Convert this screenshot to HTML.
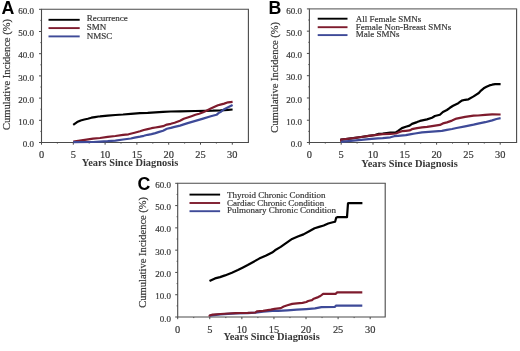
<!DOCTYPE html>
<html><head><meta charset="utf-8"><style>
html,body{margin:0;padding:0;background:#fff;}
body{width:520px;height:351px;overflow:hidden;}
svg{display:block;will-change:transform;}
.yl,.xl,.yt,.lg{font-family:"Liberation Serif",serif;fill:#383838;stroke:#383838;stroke-width:0.2px;}
.xt{font-family:"Liberation Serif",serif;font-weight:bold;fill:#363636;}
.let{font-family:"Liberation Sans",sans-serif;font-weight:bold;fill:#000;}
</style></head><body>
<svg width="520" height="351" viewBox="0 0 520 351">
<rect width="520" height="351" fill="#fff"/>
<path d="M41.5,9.3 L41.5,142.5 L248.4,142.5 L248.4,9.3" fill="none" stroke="#4a4a4a" stroke-width="1.1"/>
<line x1="40.95" y1="9.3" x2="248.95000000000002" y2="9.3" stroke="#4a4a4a" stroke-width="1.1"/>
<line x1="39.0" y1="142.50" x2="41.5" y2="142.50" stroke="#4a4a4a" stroke-width="1"/>
<text x="34.0" y="147.10" text-anchor="end" class="yl" font-size="9">0.0</text>
<line x1="39.0" y1="120.30" x2="41.5" y2="120.30" stroke="#4a4a4a" stroke-width="1"/>
<text x="34.0" y="124.90" text-anchor="end" class="yl" font-size="9">10.0</text>
<line x1="39.0" y1="98.10" x2="41.5" y2="98.10" stroke="#4a4a4a" stroke-width="1"/>
<text x="34.0" y="102.70" text-anchor="end" class="yl" font-size="9">20.0</text>
<line x1="39.0" y1="75.90" x2="41.5" y2="75.90" stroke="#4a4a4a" stroke-width="1"/>
<text x="34.0" y="80.50" text-anchor="end" class="yl" font-size="9">30.0</text>
<line x1="39.0" y1="53.70" x2="41.5" y2="53.70" stroke="#4a4a4a" stroke-width="1"/>
<text x="34.0" y="58.30" text-anchor="end" class="yl" font-size="9">40.0</text>
<line x1="39.0" y1="31.50" x2="41.5" y2="31.50" stroke="#4a4a4a" stroke-width="1"/>
<text x="34.0" y="36.10" text-anchor="end" class="yl" font-size="9">50.0</text>
<line x1="39.0" y1="9.30" x2="41.5" y2="9.30" stroke="#4a4a4a" stroke-width="1"/>
<text x="34.0" y="13.90" text-anchor="end" class="yl" font-size="9">60.0</text>
<line x1="40.4" y1="131.40" x2="41.5" y2="131.40" stroke="#4a4a4a" stroke-width="0.9"/>
<line x1="40.4" y1="109.20" x2="41.5" y2="109.20" stroke="#4a4a4a" stroke-width="0.9"/>
<line x1="40.4" y1="87.00" x2="41.5" y2="87.00" stroke="#4a4a4a" stroke-width="0.9"/>
<line x1="40.4" y1="64.80" x2="41.5" y2="64.80" stroke="#4a4a4a" stroke-width="0.9"/>
<line x1="40.4" y1="42.60" x2="41.5" y2="42.60" stroke="#4a4a4a" stroke-width="0.9"/>
<line x1="40.4" y1="20.40" x2="41.5" y2="20.40" stroke="#4a4a4a" stroke-width="0.9"/>
<line x1="57.40" y1="142.5" x2="57.40" y2="143.6" stroke="#4a4a4a" stroke-width="0.9"/>
<line x1="89.20" y1="142.5" x2="89.20" y2="143.6" stroke="#4a4a4a" stroke-width="0.9"/>
<line x1="121.00" y1="142.5" x2="121.00" y2="143.6" stroke="#4a4a4a" stroke-width="0.9"/>
<line x1="152.80" y1="142.5" x2="152.80" y2="143.6" stroke="#4a4a4a" stroke-width="0.9"/>
<line x1="184.60" y1="142.5" x2="184.60" y2="143.6" stroke="#4a4a4a" stroke-width="0.9"/>
<line x1="216.40" y1="142.5" x2="216.40" y2="143.6" stroke="#4a4a4a" stroke-width="0.9"/>
<line x1="41.50" y1="142.5" x2="41.50" y2="144.7" stroke="#4a4a4a" stroke-width="1"/>
<text x="41.50" y="158.4" text-anchor="middle" class="xl" font-size="10.4">0</text>
<line x1="73.30" y1="142.5" x2="73.30" y2="144.7" stroke="#4a4a4a" stroke-width="1"/>
<text x="73.30" y="158.4" text-anchor="middle" class="xl" font-size="10.4">5</text>
<line x1="105.10" y1="142.5" x2="105.10" y2="144.7" stroke="#4a4a4a" stroke-width="1"/>
<text x="105.10" y="158.4" text-anchor="middle" class="xl" font-size="10.4">10</text>
<line x1="136.90" y1="142.5" x2="136.90" y2="144.7" stroke="#4a4a4a" stroke-width="1"/>
<text x="136.90" y="158.4" text-anchor="middle" class="xl" font-size="10.4">15</text>
<line x1="168.70" y1="142.5" x2="168.70" y2="144.7" stroke="#4a4a4a" stroke-width="1"/>
<text x="168.70" y="158.4" text-anchor="middle" class="xl" font-size="10.4">20</text>
<line x1="200.50" y1="142.5" x2="200.50" y2="144.7" stroke="#4a4a4a" stroke-width="1"/>
<text x="200.50" y="158.4" text-anchor="middle" class="xl" font-size="10.4">25</text>
<line x1="232.30" y1="142.5" x2="232.30" y2="144.7" stroke="#4a4a4a" stroke-width="1"/>
<text x="232.30" y="158.4" text-anchor="middle" class="xl" font-size="10.4">30</text>
<text x="1.6" y="13.6" class="let" font-size="17.8">A</text>
<text transform="translate(9.6,74.5) rotate(-90)" text-anchor="middle" class="yt" font-size="10.5">Cumulative Incidence (%)</text>
<text x="130.0" y="166.4" text-anchor="middle" class="xt" font-size="10.4">Years Since Diagnosis</text>
<line x1="48.5" y1="19.8" x2="79.7" y2="19.8" stroke="#000" stroke-width="1.9"/>
<text x="86.8" y="20.9" class="lg" font-size="9">Recurrence</text>
<line x1="48.5" y1="28.1" x2="79.7" y2="28.1" stroke="#7e1b2d" stroke-width="1.9"/>
<text x="86.8" y="29.6" class="lg" font-size="9">SMN</text>
<line x1="48.5" y1="36.4" x2="79.7" y2="36.4" stroke="#3e4a98" stroke-width="1.9"/>
<text x="86.8" y="38.7" class="lg" font-size="9">NMSC</text>
<polyline points="73.2,124.8 77.1,122.1 80.7,120.5 84.3,119.5 87.8,118.7 91.4,117.7 94.9,117.1 98.5,116.5 100.0,116.4 107.7,115.6 115.4,115.0 123.1,114.5 130.8,113.8 140.0,113.2 147.7,112.9 155.4,112.3 163.1,111.8 170.8,111.5 180.0,111.4 195.4,111.0 205.0,110.8 212.7,110.7 220.4,110.4 228.1,109.8 232.6,109.5" fill="none" stroke="#000" stroke-width="2.2" stroke-linejoin="round" stroke-linecap="butt"/>
<polyline points="73.3,141.7 81.5,140.3 93.1,138.6 100.0,138.0 107.7,136.8 115.4,136.0 123.1,134.9 128.5,134.3 134.6,132.7 140.0,131.3 143.8,130.0 147.7,129.1 151.5,128.2 155.4,127.5 159.2,126.9 163.1,126.2 166.9,124.6 170.8,123.8 174.6,122.7 180.0,120.8 183.8,118.8 187.7,117.5 191.5,116.2 195.4,114.8 199.2,113.7 203.1,112.3 206.9,110.4 210.8,108.6 214.6,106.8 218.0,105.2 220.4,104.6 224.2,103.6 228.1,102.3 232.6,101.8" fill="none" stroke="#7e1b2d" stroke-width="2.2" stroke-linejoin="round" stroke-linecap="butt"/>
<polyline points="73.3,142.2 93.1,142.0 100.0,141.6 107.7,141.2 115.4,140.6 123.1,139.5 130.8,138.5 134.6,137.6 140.0,136.6 143.8,135.8 147.7,134.8 151.5,134.1 155.4,133.1 159.2,131.9 163.1,130.8 166.9,128.8 170.8,127.9 174.6,126.9 180.0,125.6 183.8,124.4 187.7,123.1 195.4,120.9 203.1,118.6 210.8,116.3 216.5,114.8 218.5,113.1 220.4,112.1 224.2,109.2 228.1,107.3 232.6,105.0" fill="none" stroke="#3e4a98" stroke-width="2.2" stroke-linejoin="round" stroke-linecap="butt"/>
<path d="M309.4,8.9 L309.4,142.5 L516.6,142.5 L516.6,8.9" fill="none" stroke="#4a4a4a" stroke-width="1.1"/>
<line x1="308.84999999999997" y1="8.9" x2="517.15" y2="8.9" stroke="#707070" stroke-width="1.1"/>
<line x1="306.9" y1="142.50" x2="309.4" y2="142.50" stroke="#4a4a4a" stroke-width="1"/>
<text x="302.0" y="147.10" text-anchor="end" class="yl" font-size="9">0.0</text>
<line x1="306.9" y1="120.23" x2="309.4" y2="120.23" stroke="#4a4a4a" stroke-width="1"/>
<text x="302.0" y="124.83" text-anchor="end" class="yl" font-size="9">10.0</text>
<line x1="306.9" y1="97.97" x2="309.4" y2="97.97" stroke="#4a4a4a" stroke-width="1"/>
<text x="302.0" y="102.57" text-anchor="end" class="yl" font-size="9">20.0</text>
<line x1="306.9" y1="75.70" x2="309.4" y2="75.70" stroke="#4a4a4a" stroke-width="1"/>
<text x="302.0" y="80.30" text-anchor="end" class="yl" font-size="9">30.0</text>
<line x1="306.9" y1="53.43" x2="309.4" y2="53.43" stroke="#4a4a4a" stroke-width="1"/>
<text x="302.0" y="58.03" text-anchor="end" class="yl" font-size="9">40.0</text>
<line x1="306.9" y1="31.17" x2="309.4" y2="31.17" stroke="#4a4a4a" stroke-width="1"/>
<text x="302.0" y="35.77" text-anchor="end" class="yl" font-size="9">50.0</text>
<line x1="306.9" y1="8.90" x2="309.4" y2="8.90" stroke="#4a4a4a" stroke-width="1"/>
<text x="302.0" y="13.50" text-anchor="end" class="yl" font-size="9">60.0</text>
<line x1="308.29999999999995" y1="131.37" x2="309.4" y2="131.37" stroke="#4a4a4a" stroke-width="0.9"/>
<line x1="308.29999999999995" y1="109.10" x2="309.4" y2="109.10" stroke="#4a4a4a" stroke-width="0.9"/>
<line x1="308.29999999999995" y1="86.83" x2="309.4" y2="86.83" stroke="#4a4a4a" stroke-width="0.9"/>
<line x1="308.29999999999995" y1="64.57" x2="309.4" y2="64.57" stroke="#4a4a4a" stroke-width="0.9"/>
<line x1="308.29999999999995" y1="42.30" x2="309.4" y2="42.30" stroke="#4a4a4a" stroke-width="0.9"/>
<line x1="308.29999999999995" y1="20.03" x2="309.4" y2="20.03" stroke="#4a4a4a" stroke-width="0.9"/>
<line x1="325.30" y1="142.5" x2="325.30" y2="143.6" stroke="#4a4a4a" stroke-width="0.9"/>
<line x1="357.10" y1="142.5" x2="357.10" y2="143.6" stroke="#4a4a4a" stroke-width="0.9"/>
<line x1="388.90" y1="142.5" x2="388.90" y2="143.6" stroke="#4a4a4a" stroke-width="0.9"/>
<line x1="420.70" y1="142.5" x2="420.70" y2="143.6" stroke="#4a4a4a" stroke-width="0.9"/>
<line x1="452.50" y1="142.5" x2="452.50" y2="143.6" stroke="#4a4a4a" stroke-width="0.9"/>
<line x1="484.30" y1="142.5" x2="484.30" y2="143.6" stroke="#4a4a4a" stroke-width="0.9"/>
<line x1="309.40" y1="142.5" x2="309.40" y2="144.7" stroke="#4a4a4a" stroke-width="1"/>
<text x="309.40" y="158.4" text-anchor="middle" class="xl" font-size="10.4">0</text>
<line x1="341.20" y1="142.5" x2="341.20" y2="144.7" stroke="#4a4a4a" stroke-width="1"/>
<text x="341.20" y="158.4" text-anchor="middle" class="xl" font-size="10.4">5</text>
<line x1="373.00" y1="142.5" x2="373.00" y2="144.7" stroke="#4a4a4a" stroke-width="1"/>
<text x="373.00" y="158.4" text-anchor="middle" class="xl" font-size="10.4">10</text>
<line x1="404.80" y1="142.5" x2="404.80" y2="144.7" stroke="#4a4a4a" stroke-width="1"/>
<text x="404.80" y="158.4" text-anchor="middle" class="xl" font-size="10.4">15</text>
<line x1="436.60" y1="142.5" x2="436.60" y2="144.7" stroke="#4a4a4a" stroke-width="1"/>
<text x="436.60" y="158.4" text-anchor="middle" class="xl" font-size="10.4">20</text>
<line x1="468.40" y1="142.5" x2="468.40" y2="144.7" stroke="#4a4a4a" stroke-width="1"/>
<text x="468.40" y="158.4" text-anchor="middle" class="xl" font-size="10.4">25</text>
<line x1="500.20" y1="142.5" x2="500.20" y2="144.7" stroke="#4a4a4a" stroke-width="1"/>
<text x="500.20" y="158.4" text-anchor="middle" class="xl" font-size="10.4">30</text>
<text x="268.6" y="13.6" class="let" font-size="17.8">B</text>
<text transform="translate(278.3,77.3) rotate(-90)" text-anchor="middle" class="yt" font-size="10.5">Cumulative Incidence (%)</text>
<text x="409.5" y="166.6" text-anchor="middle" class="xt" font-size="10.4">Years Since Diagnosis</text>
<line x1="317.7" y1="18.7" x2="347.5" y2="18.7" stroke="#000" stroke-width="1.9"/>
<text x="355.8" y="22.3" class="lg" font-size="9">All Female SMNs</text>
<line x1="317.7" y1="27.2" x2="347.5" y2="27.2" stroke="#7e1b2d" stroke-width="1.9"/>
<text x="355.8" y="29.5" class="lg" font-size="9">Female Non-Breast SMNs</text>
<line x1="317.7" y1="35.1" x2="347.5" y2="35.1" stroke="#3e4a98" stroke-width="1.9"/>
<text x="355.8" y="37.0" class="lg" font-size="9">Male SMNs</text>
<polyline points="341.1,141.6 341.1,139.7 345.7,139.1 353.4,138.2 361.1,137.0 368.8,135.8 375.0,135.0 378.8,133.8 382.7,133.5 390.4,132.7 395.8,132.3 398.1,130.8 401.9,128.1 405.8,126.7 409.6,125.6 412.0,123.9 417.0,122.1 420.0,120.9 427.0,119.4 432.0,117.7 434.9,116.0 439.9,114.8 442.9,112.0 446.9,110.0 449.9,107.8 453.1,105.8 458.3,103.2 461.7,100.6 465.1,99.8 468.5,99.3 473.6,96.4 478.8,93.0 481.0,90.6 483.7,88.3 486.5,86.8 489.4,85.4 492.2,84.7 495.1,84.1 500.6,84.1" fill="none" stroke="#000" stroke-width="2.2" stroke-linejoin="round" stroke-linecap="butt"/>
<polyline points="341.1,141.6 341.1,139.7 345.7,139.1 353.4,138.2 361.1,137.0 368.8,135.8 375.0,135.2 382.7,134.2 390.4,133.8 395.8,133.5 399.6,131.9 401.9,131.2 405.8,130.8 409.6,130.4 411.9,129.2 417.0,128.1 422.0,127.4 427.0,126.9 432.0,126.1 439.9,124.9 442.9,123.4 446.9,122.4 452.0,120.6 456.5,118.6 465.1,116.9 473.6,115.7 478.0,115.5 485.1,114.8 492.2,114.3 500.6,114.5" fill="none" stroke="#7e1b2d" stroke-width="2.2" stroke-linejoin="round" stroke-linecap="butt"/>
<polyline points="341.1,141.8 345.7,141.3 353.4,140.7 361.1,139.8 368.8,139.1 378.0,138.3 382.7,138.1 390.4,137.3 394.2,136.2 398.1,135.8 405.8,135.2 411.2,134.1 415.0,133.5 422.0,132.4 432.0,131.7 441.9,130.9 446.9,129.9 452.0,129.0 456.5,128.0 465.1,126.3 473.6,124.6 478.0,123.6 485.1,122.2 492.2,120.4 496.5,119.0 500.6,118.2" fill="none" stroke="#3e4a98" stroke-width="2.2" stroke-linejoin="round" stroke-linecap="butt"/>
<path d="M177.7,183.3 L177.7,317.0 L385.2,317.0 L385.2,183.3" fill="none" stroke="#4a4a4a" stroke-width="1.1"/>
<line x1="177.14999999999998" y1="183.3" x2="385.75" y2="183.3" stroke="#4a4a4a" stroke-width="1.1"/>
<line x1="175.2" y1="317.00" x2="177.7" y2="317.00" stroke="#4a4a4a" stroke-width="1"/>
<text x="171.0" y="321.60" text-anchor="end" class="yl" font-size="9">0.0</text>
<line x1="175.2" y1="294.72" x2="177.7" y2="294.72" stroke="#4a4a4a" stroke-width="1"/>
<text x="171.0" y="299.32" text-anchor="end" class="yl" font-size="9">10.0</text>
<line x1="175.2" y1="272.43" x2="177.7" y2="272.43" stroke="#4a4a4a" stroke-width="1"/>
<text x="171.0" y="277.03" text-anchor="end" class="yl" font-size="9">20.0</text>
<line x1="175.2" y1="250.15" x2="177.7" y2="250.15" stroke="#4a4a4a" stroke-width="1"/>
<text x="171.0" y="254.75" text-anchor="end" class="yl" font-size="9">30.0</text>
<line x1="175.2" y1="227.87" x2="177.7" y2="227.87" stroke="#4a4a4a" stroke-width="1"/>
<text x="171.0" y="232.47" text-anchor="end" class="yl" font-size="9">40.0</text>
<line x1="175.2" y1="205.58" x2="177.7" y2="205.58" stroke="#4a4a4a" stroke-width="1"/>
<text x="171.0" y="210.18" text-anchor="end" class="yl" font-size="9">50.0</text>
<line x1="175.2" y1="183.30" x2="177.7" y2="183.30" stroke="#4a4a4a" stroke-width="1"/>
<text x="171.0" y="187.90" text-anchor="end" class="yl" font-size="9">60.0</text>
<line x1="176.6" y1="305.86" x2="177.7" y2="305.86" stroke="#4a4a4a" stroke-width="0.9"/>
<line x1="176.6" y1="283.57" x2="177.7" y2="283.57" stroke="#4a4a4a" stroke-width="0.9"/>
<line x1="176.6" y1="261.29" x2="177.7" y2="261.29" stroke="#4a4a4a" stroke-width="0.9"/>
<line x1="176.6" y1="239.01" x2="177.7" y2="239.01" stroke="#4a4a4a" stroke-width="0.9"/>
<line x1="176.6" y1="216.73" x2="177.7" y2="216.73" stroke="#4a4a4a" stroke-width="0.9"/>
<line x1="176.6" y1="194.44" x2="177.7" y2="194.44" stroke="#4a4a4a" stroke-width="0.9"/>
<line x1="193.74" y1="317.0" x2="193.74" y2="318.1" stroke="#4a4a4a" stroke-width="0.9"/>
<line x1="225.82" y1="317.0" x2="225.82" y2="318.1" stroke="#4a4a4a" stroke-width="0.9"/>
<line x1="257.90" y1="317.0" x2="257.90" y2="318.1" stroke="#4a4a4a" stroke-width="0.9"/>
<line x1="289.98" y1="317.0" x2="289.98" y2="318.1" stroke="#4a4a4a" stroke-width="0.9"/>
<line x1="322.06" y1="317.0" x2="322.06" y2="318.1" stroke="#4a4a4a" stroke-width="0.9"/>
<line x1="354.14" y1="317.0" x2="354.14" y2="318.1" stroke="#4a4a4a" stroke-width="0.9"/>
<line x1="177.70" y1="317.0" x2="177.70" y2="319.2" stroke="#4a4a4a" stroke-width="1"/>
<text x="177.70" y="332.6" text-anchor="middle" class="xl" font-size="10.4">0</text>
<line x1="209.78" y1="317.0" x2="209.78" y2="319.2" stroke="#4a4a4a" stroke-width="1"/>
<text x="209.78" y="332.6" text-anchor="middle" class="xl" font-size="10.4">5</text>
<line x1="241.86" y1="317.0" x2="241.86" y2="319.2" stroke="#4a4a4a" stroke-width="1"/>
<text x="241.86" y="332.6" text-anchor="middle" class="xl" font-size="10.4">10</text>
<line x1="273.94" y1="317.0" x2="273.94" y2="319.2" stroke="#4a4a4a" stroke-width="1"/>
<text x="273.94" y="332.6" text-anchor="middle" class="xl" font-size="10.4">15</text>
<line x1="306.02" y1="317.0" x2="306.02" y2="319.2" stroke="#4a4a4a" stroke-width="1"/>
<text x="306.02" y="332.6" text-anchor="middle" class="xl" font-size="10.4">20</text>
<line x1="338.10" y1="317.0" x2="338.10" y2="319.2" stroke="#4a4a4a" stroke-width="1"/>
<text x="338.10" y="332.6" text-anchor="middle" class="xl" font-size="10.4">25</text>
<line x1="370.18" y1="317.0" x2="370.18" y2="319.2" stroke="#4a4a4a" stroke-width="1"/>
<text x="370.18" y="332.6" text-anchor="middle" class="xl" font-size="10.4">30</text>
<text x="137.5" y="190.0" class="let" font-size="17.8">C</text>
<text transform="translate(146.3,252.3) rotate(-90)" text-anchor="middle" class="yt" font-size="10.5">Cumulative Incidence (%)</text>
<text x="271.6" y="339.8" text-anchor="middle" class="xt" font-size="10.4">Years Since Diagnosis</text>
<line x1="189.5" y1="194.6" x2="220.1" y2="194.6" stroke="#000" stroke-width="1.9"/>
<text x="226.9" y="197.8" class="lg" font-size="9">Thyroid Chronic Condition</text>
<line x1="189.5" y1="203.0" x2="220.1" y2="203.0" stroke="#7e1b2d" stroke-width="1.9"/>
<text x="226.9" y="205.9" class="lg" font-size="9">Cardiac Chronic Condition</text>
<line x1="189.5" y1="211.2" x2="220.1" y2="211.2" stroke="#3e4a98" stroke-width="1.9"/>
<text x="226.9" y="213.4" class="lg" font-size="9">Pulmonary Chronic Condition</text>
<polyline points="209.5,281.1 215.0,278.4 220.0,277.1 225.0,275.4 231.9,272.7 237.9,270.0 243.0,267.4 247.7,265.0 252.8,262.2 259.2,258.6 265.6,255.8 272.1,252.6 275.0,250.3 280.7,246.9 286.4,242.9 292.1,238.9 297.8,236.6 303.5,234.4 309.2,231.2 314.6,228.2 319.1,226.9 323.7,225.5 328.2,223.5 332.8,222.3 335.1,221.8 336.2,217.8 337.3,217.2 347.0,217.2 348.0,203.3 348.7,203.2 362.4,203.2" fill="none" stroke="#000" stroke-width="2.2" stroke-linejoin="round" stroke-linecap="butt"/>
<polyline points="209.6,315.7 220.4,314.3 235.8,313.4 247.7,313.1 255.4,312.7 263.0,311.7 272.3,310.9 278.0,310.9 287.4,310.3 296.9,309.7 306.3,309.1 315.0,308.4 321.5,307.1 335.0,306.8 336.1,305.6 362.3,305.6" fill="none" stroke="#3e4a98" stroke-width="2.2" stroke-linejoin="round" stroke-linecap="butt"/>
<polyline points="209.6,316.6 209.6,315.5 212.7,314.6 220.4,314.0 228.1,313.5 235.8,313.1 240.0,313.0 247.7,312.9 255.4,312.5 256.9,311.3 263.1,310.8 270.8,309.6 274.6,308.8 280.8,308.1 283.7,306.5 287.4,305.3 292.2,303.9 296.9,303.4 302.5,302.9 306.3,302.0 308.2,301.0 312.0,300.1 313.8,298.7 318.2,297.1 320.4,296.0 323.1,293.9 335.6,293.9 337.2,292.4 362.3,292.4" fill="none" stroke="#7e1b2d" stroke-width="2.2" stroke-linejoin="round" stroke-linecap="butt"/>
</svg>
</body></html>
